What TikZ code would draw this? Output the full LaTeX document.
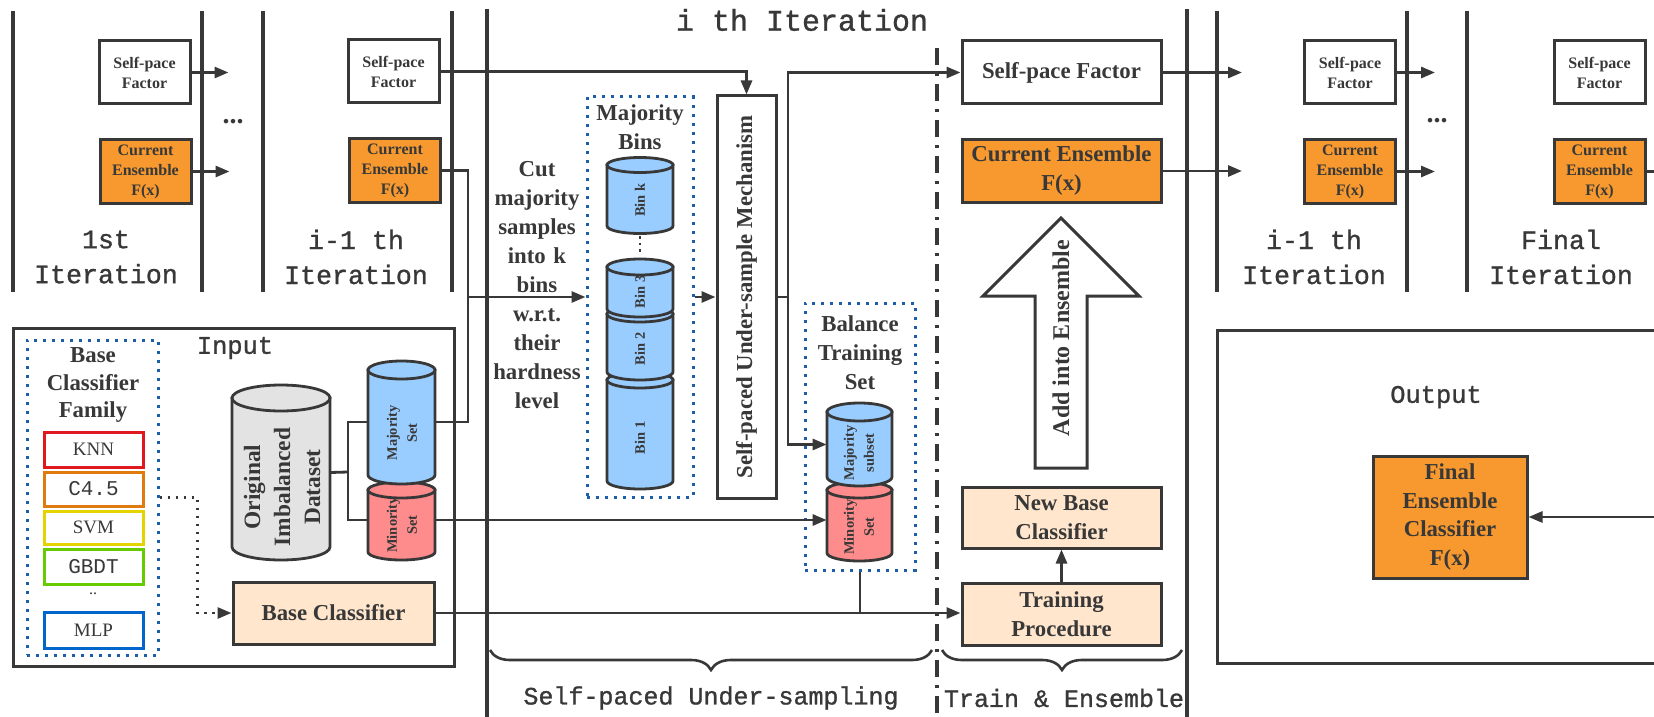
\documentclass[tikz,border=0pt]{standalone}
\usepackage{fontspec}
\setmainfont{Liberation Serif}
\setmonofont{Liberation Mono}
\newfontfamily\labelmono{Liberation Mono}[FakeBold=1]
\usetikzlibrary{fit,arrows.meta,decorations.pathreplacing}

\definecolor{ink}{HTML}{383838}
\definecolor{orangebox}{HTML}{F7992E}
\definecolor{peach}{HTML}{FFE6CC}
\definecolor{cylblue}{HTML}{99CCFF}
\definecolor{cylpink}{HTML}{FF8C8C}
\definecolor{cylgray}{HTML}{E3E3E3}
\definecolor{dotblue}{HTML}{1C5EA8}
\definecolor{knnred}{HTML}{E0191F}
\definecolor{c45orange}{HTML}{E07B10}
\definecolor{svmyellow}{HTML}{E3D400}
\definecolor{gbdtgreen}{HTML}{66CC00}
\definecolor{mlpblue}{HTML}{0066CC}

% font sizes (1 unit = 0.5pt)
\newcommand\lblbig{\fontsize{11.4}{14.5}\selectfont\bfseries}
\newcommand\lblsmall{\fontsize{8}{10}\selectfont\bfseries}
\newcommand\lbltiny{\fontsize{7.2}{10}\selectfont\bfseries}
\newcommand\lbliter{\fontsize{13.3}{17.5}\selectfont\labelmono}
\newcommand\lblsect{\fontsize{12.5}{15}\selectfont\labelmono}

% vertical drum: x1, x2, centre of top cap, centre of bottom curve, cap radius, fill
\newcommand\drum[6]{%
  \pgfmathsetmacro\dcx{(#1+#2)/2}%
  \pgfmathsetmacro\drx{(#2-#1)/2}%
  \pgfmathsetmacro\dkx{0.5523*\drx}%
  \pgfmathsetmacro\dky{0.5523*#5}%
  \filldraw[fill=#6, draw=ink, line width=1.4pt]
    (#1,#3) -- (#1,#4)
    .. controls (#1,#4+\dky) and (\dcx-\dkx,#4+#5) .. (\dcx,#4+#5)
    .. controls (\dcx+\dkx,#4+#5) and (#2,#4+\dky) .. (#2,#4)
    -- (#2,#3) -- cycle;
  \filldraw[fill=#6, draw=ink, line width=1.4pt] (\dcx,#3) ellipse [x radius=\drx, y radius=#5];
}

\tikzset{
  every node/.style={text=ink},
  wh/.style 2 args={minimum width=#1, minimum height=#2},
  frame/.style={inner sep=0pt, draw=ink, line width=1.5pt, align=center},
  sbox/.style={frame, font=\lblsmall, wh={45.5pt}{31.5pt}},
  bbox/.style={frame, font=\lblbig},
  algbox/.style={inner sep=0pt, line width=1.5pt, minimum width=49.5pt, font=\fontsize{9.5}{10}\selectfont},
  region/.style={inner sep=0pt},
  bluedot/.style={inner sep=0pt, draw=dotblue, line width=1.5pt, dash pattern=on 1.5pt off 3pt},
  sepline/.style={draw=ink, line width=1.6pt},
  conn/.style={draw=ink, line width=1.4pt},
  arr/.style={conn, -{Triangle[length=7pt,width=5.5pt]}},
  dotarr/.style={arr, dash pattern=on 1.4pt off 2.6pt},
  dashdot/.style={draw=ink, line width=1.6pt, dash pattern=on 8.5pt off 4pt on 1.5pt off 4pt},
  curly/.style={draw=ink, line width=1.3pt, decorate, decoration={brace, mirror, amplitude=10pt}},
  iterlbl/.style={font=\lbliter, align=center, inner sep=0pt},
  cyllbl/.style={font=\lbltiny, align=center, rotate=90, inner sep=0pt},
}

\begin{document}
\begin{tikzpicture}[x=0.5pt,y=-0.5pt]
\useasboundingbox (0,0) rectangle (1654,717);
\fill[white] (0,0) rectangle (1654,717);

% ---------- column separators ----------
\foreach \x in {13,202,263,452,1217,1407,1467}
  \draw[sepline] (\x,11) -- (\x,292);
\draw[sepline] (487,9) -- (487,717);
\draw[sepline] (1187,9) -- (1187,717);
\draw[dashdot] (937,48) -- (937,717);

% ---------- earlier and later iterations ----------
\node[sbox] (sp1) at (144.5,72.5) {Self-pace\\Factor};
\node[sbox, fill=orangebox] (ce1) at (145.5,171.5) {Current\\Ensemble\\F(x)};
\node[sbox] (sp2) at (393.5,71.5) {Self-pace\\Factor};
\node[sbox, fill=orangebox] (ce2) at (395,170.5) {Current\\Ensemble\\F(x)};
\node[sbox] (sp3) at (1350,72.5) {Self-pace\\Factor};
\node[sbox, fill=orangebox] (ce3) at (1350,171.5) {Current\\Ensemble\\F(x)};
\node[sbox] (sp4) at (1599.5,72.5) {Self-pace\\Factor};
\node[sbox, fill=orangebox] (ce4) at (1599.5,171.5) {Current\\Ensemble\\F(x)};

\node[iterlbl] (it1) at (106,257) {1st\\Iteration};
\node[iterlbl] (it2) at (356,257) {i-1 th\\Iteration};
\node[iterlbl] (it3) at (1314,257) {i-1 th\\Iteration};
\node[iterlbl] (it4) at (1561,257) {Final\\Iteration};
\node[font=\fontsize{14}{14}\selectfont\bfseries] (dots1) at (233,122) {...};
\node[font=\fontsize{14}{14}\selectfont\bfseries] (dots2) at (1437,121) {...};

\draw[arr] (sp1.east) -- ++(37,0);
\draw[arr] (ce1.east) -- ++(37,0);
\draw[arr] (sp3.east) -- ++(38,0);
\draw[arr] (ce3.east) -- ++(38,0);
\draw[conn] (ce4.east) -- ++(12,0);

% ---------- i th iteration ----------
\node[font=\fontsize{15}{15}\selectfont\labelmono] (ithtitle) at (802,20) {i th Iteration};

\node[bbox, wh={99.5pt}{31.5pt}] (spbig) at (1061.5,72.5) {Self-pace Factor};
\node[bbox, wh={99.5pt}{31pt}, fill=orangebox] (cebig) at (1061.5,171) {Current Ensemble\\F(x)};
\coordinate (spnext) at (1242,72.5);
\coordinate (cenext) at (1242,171);
\draw[arr] (spbig.east) -- (spnext);
\draw[arr] (cebig.east) -- (cenext);

% majority bins
\node[bluedot, fit={(587,97) (693,497)}] (bins) {};
\node[font=\lblbig, align=center] (binstitle) at (640,127) {Majority\\Bins};
\drum{607}{673}{380}{481}{8}{cylblue}
\drum{607}{673}{314}{372}{8}{cylblue}
\drum{607}{673}{267}{309}{8}{cylblue}
\drum{607}{673}{165}{226}{7.5}{cylblue}
\node[cyllbl] (bink) at (640,200) {Bin k};
\node[cyllbl] (bin3) at (640,292) {Bin 3};
\node[cyllbl] (bin2) at (640,349) {Bin 2};
\node[cyllbl] (bin1) at (640,438) {Bin 1};
\draw[ink, line width=1.3pt, dash pattern=on 1.3pt off 2pt] (640,236) -- (640,252);

\node[font=\lblbig, align=center, text width=80pt] (cuttext) at (537,285)
  {Cut\\majority\\samples\\into k\\bins\\w.r.t.\\their\\hardness\\level};

% under-sample mechanism
\node[frame, wh={29.5pt}{201pt}] (mech) at (746.5,297) {};
\node[font=\lblbig, rotate=90] (mechtext) at (746.5,297) {Self-paced Under-sample Mechanism};

% balance training set
\node[bluedot, fit={(805,303) (915,570)}] (balance) {};
\node[font=\lblbig, align=center] (baltitle) at (860,353) {Balance\\Training\\Set};
\drum{827}{892}{490}{553}{8}{cylpink}
\drum{827}{892}{412}{477}{9}{cylblue}
\node[region, fit={(827,403) (892,486)}] (bmajset) {};
\node[region, fit={(827,482) (892,562)}] (bminset) {};
\node[cyllbl] (bmajtext) at (859,453) {Majority\\subset};
\node[cyllbl] (bmintext) at (859,527) {Minority\\Set};

% train and ensemble
\node[bbox, wh={99.5pt}{30.5pt}, fill=peach] (newbase) at (1061.5,517.5) {New Base\\Classifier};
\node[bbox, wh={99.5pt}{31pt}, fill=peach] (train) at (1061.5,614) {Training\\Procedure};
\filldraw[fill=white, draw=ink, line width=1.5pt]
  (1061,218) -- (1139,296) -- (1087,296) -- (1087,468) -- (1035,468) -- (1035,296) -- (983,296) -- cycle;
\node[font=\fontsize{12}{12}\selectfont\bfseries, rotate=90] (addtext) at (1061,338) {Add into Ensemble};
\draw[arr] (train.north) -- (newbase.south);

% ---------- input ----------
\node[frame, fit={(13,328) (454,666)}] (inputbox) {};
\node[font=\fontsize{12.7}{12.7}\selectfont\labelmono] (inputtitle) at (235,348) {Input};

\node[bluedot, fit={(27,340) (158,655)}] (family) {};
\node[font=\fontsize{11.4}{13.8}\selectfont\bfseries, align=center] (famtitle) at (93,385) {Base\\Classifier\\Family};
\node[algbox, draw=knnred, minimum height=17.5pt] (knn) at (93.5,449.5) {KNN};
\node[algbox, draw=c45orange, minimum height=17pt, font=\fontsize{10.5}{10}\selectfont\ttfamily] (c45) at (93.5,489) {C4.5};
\node[algbox, draw=svmyellow, minimum height=16.5pt] (svm) at (93.5,527.5) {SVM};
\node[algbox, draw=gbdtgreen, minimum height=17.5pt, font=\fontsize{10.5}{10}\selectfont\ttfamily] (gbdt) at (93.5,566.5) {GBDT};
\node[font=\fontsize{8}{8}\selectfont] (more) at (93,594) {..};
\node[algbox, draw=mlpblue, minimum height=18pt] (mlp) at (93.5,630) {MLP};

\drum{232}{330}{398}{547}{13}{cylgray}
\node[region, fit={(232,385) (330,560)}] (dataset) {};
\node[font=\fontsize{11.7}{15}\selectfont\bfseries, align=center, rotate=90] (datatext) at (282,487)
  {Original\\Imbalanced\\Dataset};

\drum{368}{435}{490}{552}{8}{cylpink}
\drum{368}{435}{370}{475}{9}{cylblue}
\node[region, fit={(368,361) (435,483)}] (majset) {};
\node[region, fit={(368,482) (435,558)}] (minset) {};
\node[cyllbl] (majtext) at (402,433) {Majority\\Set};
\node[cyllbl] (mintext) at (402,525) {Minority\\Set};

\node[bbox, wh={100.5pt}{31pt}, fill=peach] (baseclf) at (333.5,613) {Base Classifier};

% ---------- output ----------
\draw[conn, line width=1.5pt] (1660,330) -- (1217,330) -- (1217,663) -- (1660,663);
\node[font=\fontsize{12.7}{12.7}\selectfont\labelmono] (outputtitle) at (1436,397) {Output};
\node[bbox, wh={77pt}{61pt}, fill=orangebox, font=\fontsize{11.4}{14.2}\selectfont\bfseries] (final) at (1450,517)
  {Final\\Ensemble\\Classifier\\F(x)};
\coordinate (finalsrc) at (1660,517);
\draw[arr] (finalsrc) -- (final.east);

% ---------- connectors ----------
\coordinate (split) at (348,472);
\draw[conn] (dataset.east) -- (split);
\draw[conn] (majset.west) -| (split) |- (minset.west);

\coordinate (join) at (468,297);
\draw[conn] (ce2.east) -| (join);
\draw[conn] (majset.east) -| (join);
\draw[arr] (join) -- (bins.west);
\draw[arr] (bins.east) -- (mech.west);
\draw[arr] (sp2.east) -| (mech.north);

\coordinate (fork) at (788,297);
\draw[conn] (mech.east) -- (fork);
\draw[arr] (fork) |- (spbig.west);
\draw[arr] (fork) |- (bmajset.west);

\draw[arr] (minset.east) -- (minset.east -| bminset.west);
\draw[dotarr] (family.east) -- ++(38,0) |- (baseclf.west);
\draw[arr] (baseclf.east) -- (baseclf.east -| train.west);
\draw[conn] (balance.south) -- (balance.south |- baseclf.east);

% ---------- stage braces ----------
\draw[curly] (490,650) -- (932,650);
\draw[curly] (942,650) -- (1182,650);
\node[font=\lblsect] (stage1) at (711,698) {Self-paced Under-sampling};
\node[font=\lblsect] (stage2) at (1064,698) {Train \& Ensemble};
\end{tikzpicture}
\end{document}
